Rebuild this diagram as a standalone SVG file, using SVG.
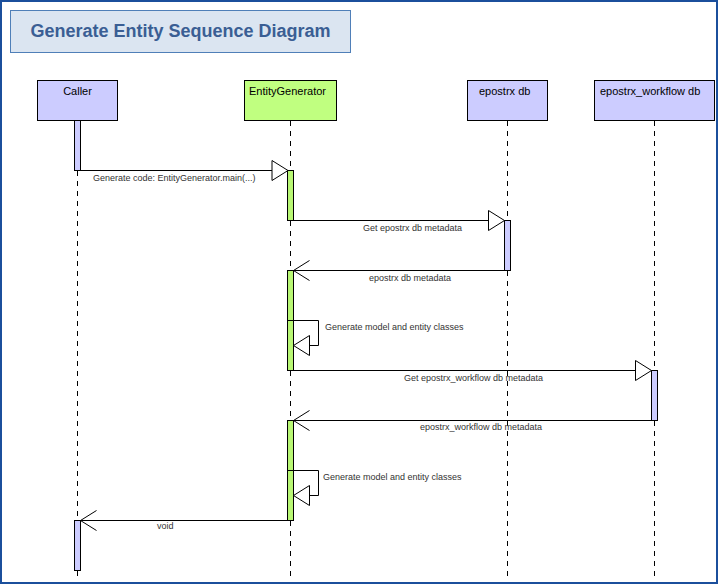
<svg xmlns="http://www.w3.org/2000/svg" width="719" height="586" viewBox="0 0 719 586">
<style>
  .frame{fill:#ffffff;stroke:#1b4f9c;stroke-width:2}
  .title-box{fill:#dbe5f1;stroke:#4f7fb8;stroke-width:1}
  .title{font-family:"Liberation Sans",Arial,sans-serif;font-size:18px;font-weight:bold;fill:#3a5e94}
  .node-blue{fill:#ccccff;stroke:#000;stroke-width:1}
  .node-green{fill:#c0ff80;stroke:#000;stroke-width:1}
  .act-blue{fill:#ccccff;stroke:#000;stroke-width:1}
  .act-green{fill:#b8f774;stroke:#000;stroke-width:1}
  .node-label{font-family:"Liberation Sans",Arial,sans-serif;font-size:11px;fill:#000}
  .lifeline{stroke:#000;stroke-width:1;stroke-dasharray:5,5;fill:none}
  .msg{stroke:#000;stroke-width:1;fill:none}
  .msg-label{font-family:"Liberation Sans",Arial,sans-serif;font-size:9px;fill:#333}
</style>
<defs>
  <marker id="call" markerUnits="userSpaceOnUse" markerWidth="18" markerHeight="22" viewBox="-1 -1 18 22" refX="16" refY="10" orient="auto">
    <path d="M0,0 L16,10 L0,20 Z" fill="#fff" stroke="#000" stroke-width="1"/>
  </marker>
  <marker id="ret" markerUnits="userSpaceOnUse" markerWidth="18" markerHeight="22" viewBox="-1 -1 18 22" refX="16" refY="10" orient="auto">
    <path d="M0,0 L16,10 L0,20" fill="none" stroke="#000" stroke-width="1"/>
  </marker>
</defs>

<rect class="frame" x="1" y="1" width="716" height="582"/>

<g id="title">
  <rect class="title-box" x="10.5" y="10.5" width="340" height="42"/>
  <text class="title" x="180.5" y="37" text-anchor="middle">Generate Entity Sequence Diagram</text>
</g>

<g id="lifelines">
  <line class="lifeline" x1="77.5" y1="121" x2="77.5" y2="576"/>
  <line class="lifeline" x1="290.5" y1="121" x2="290.5" y2="576"/>
  <line class="lifeline" x1="507.5" y1="121" x2="507.5" y2="576"/>
  <line class="lifeline" x1="654.5" y1="121" x2="654.5" y2="576"/>
</g>

<g id="caller">
  <rect class="node-blue" x="37.5" y="80.5" width="80" height="40"/>
  <text class="node-label" x="77.5" y="95" text-anchor="middle">Caller</text>
  <rect class="act-blue" x="74.5" y="120.5" width="6" height="50"/>
  <rect class="act-blue" x="74.5" y="520.5" width="6" height="50"/>
</g>

<g id="entity-generator">
  <rect class="node-green" x="244.5" y="80.5" width="92" height="40"/>
  <text class="node-label" x="249" y="95">EntityGenerator</text>
  <rect class="act-green" x="287.5" y="170.5" width="6" height="50"/>
  <rect class="act-green" x="287.5" y="270.5" width="6" height="100"/>
  <line x1="287.5" y1="320.5" x2="293.5" y2="320.5" stroke="#000"/>
  <rect class="act-green" x="287.5" y="420.5" width="6" height="100"/>
  <line x1="287.5" y1="470.5" x2="293.5" y2="470.5" stroke="#000"/>
</g>

<g id="epostrx-db">
  <rect class="node-blue" x="467.5" y="80.5" width="80" height="40"/>
  <text class="node-label" x="479" y="95">epostrx db</text>
  <rect class="act-blue" x="504.5" y="220.5" width="6" height="50"/>
</g>

<g id="epostrx-workflow-db">
  <rect class="node-blue" x="594.5" y="80.5" width="120" height="40"/>
  <text class="node-label" x="600" y="95">epostrx_workflow db</text>
  <rect class="act-blue" x="651.5" y="370.5" width="6" height="50"/>
</g>

<g id="connectors">
  <line class="msg" x1="77.5" y1="170.5" x2="288" y2="170.5" marker-end="url(#call)"/>
  <text class="msg-label" x="93" y="181">Generate code: EntityGenerator.main(...)</text>

  <line class="msg" x1="293.5" y1="220.5" x2="504.5" y2="220.5" marker-end="url(#call)"/>
  <text class="msg-label" x="363" y="231">Get epostrx db metadata</text>

  <line class="msg" x1="504.5" y1="270.5" x2="293.5" y2="270.5" marker-end="url(#ret)"/>
  <text class="msg-label" x="369" y="281">epostrx db metadata</text>

  <path class="msg" d="M293.5,320.5 H318.5 V345.5 H293.5" marker-end="url(#call)"/>
  <text class="msg-label" x="325" y="330">Generate model and entity classes</text>

  <line class="msg" x1="293.5" y1="370.5" x2="651.5" y2="370.5" marker-end="url(#call)"/>
  <text class="msg-label" x="404" y="381">Get epostrx_workflow db metadata</text>

  <line class="msg" x1="651.5" y1="420.5" x2="293.5" y2="420.5" marker-end="url(#ret)"/>
  <text class="msg-label" x="420" y="430">epostrx_workflow db metadata</text>

  <path class="msg" d="M293.5,470.5 H318.5 V495.5 H293.5" marker-end="url(#call)"/>
  <text class="msg-label" x="323" y="480">Generate model and entity classes</text>

  <line class="msg" x1="287.5" y1="520.5" x2="80.5" y2="520.5" marker-end="url(#ret)"/>
  <text class="msg-label" x="157" y="529">void</text>
</g>
</svg>
